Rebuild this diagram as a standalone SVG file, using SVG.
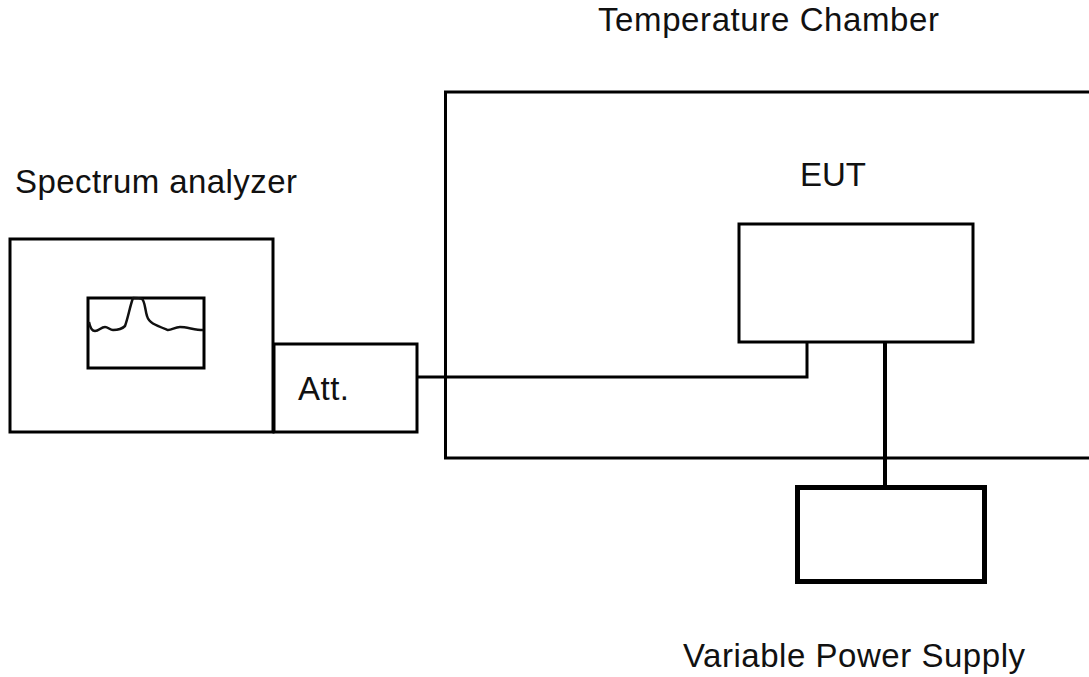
<svg xmlns="http://www.w3.org/2000/svg" width="1089" height="677" viewBox="0 0 1089 677">
<style>
.b{fill:none;stroke:#000;stroke-width:3}
text{font-family:"Liberation Sans",Arial,sans-serif;font-size:33px;fill:#111}
</style>
<rect width="1089" height="677" fill="#fff"/>
<g id="chamber"><path class="b" d="M1089 92H445.500V458H1089"/><text x="598" y="31" textLength="341" lengthAdjust="spacing">Temperature Chamber</text></g>
<g id="analyzer"><rect class="b" x="10" y="239" width="263" height="193"/><text x="15" y="193" textLength="282" lengthAdjust="spacing">Spectrum analyzer</text>
<rect class="b" x="88" y="298" width="116" height="70"/>
<path fill="none" stroke="#111" stroke-width="2.500" stroke-linejoin="round" d="M89 322C90 327 92 331 95 331C99 331 101 327 105 327C108 327 110 330 113 330C117 330 121 330 125 326C128 318 130 306 133 298C136 298 140 298 142 299C145 301 145 310 147 316C149 323 155 325 168 330C172 330 175 327 180 327C187 327 195 330 203 330"/></g>
<g id="att"><rect class="b" x="274" y="344" width="143" height="88"/><text x="298" y="400" textLength="51" lengthAdjust="spacing">Att.</text></g>
<g id="eut"><rect class="b" x="739" y="224" width="234" height="118"/><text x="800" y="186" textLength="66" lengthAdjust="spacing">EUT</text></g>
<g id="psu"><rect fill="none" stroke="#000" stroke-width="5" x="797.500" y="487.500" width="187" height="94"/><text x="683" y="667" textLength="342" lengthAdjust="spacing">Variable Power Supply</text></g>
<g id="connectors"><path class="b" d="M417 377H807V342"/><path fill="none" stroke="#000" stroke-width="4" d="M885 342V486"/></g>
</svg>
